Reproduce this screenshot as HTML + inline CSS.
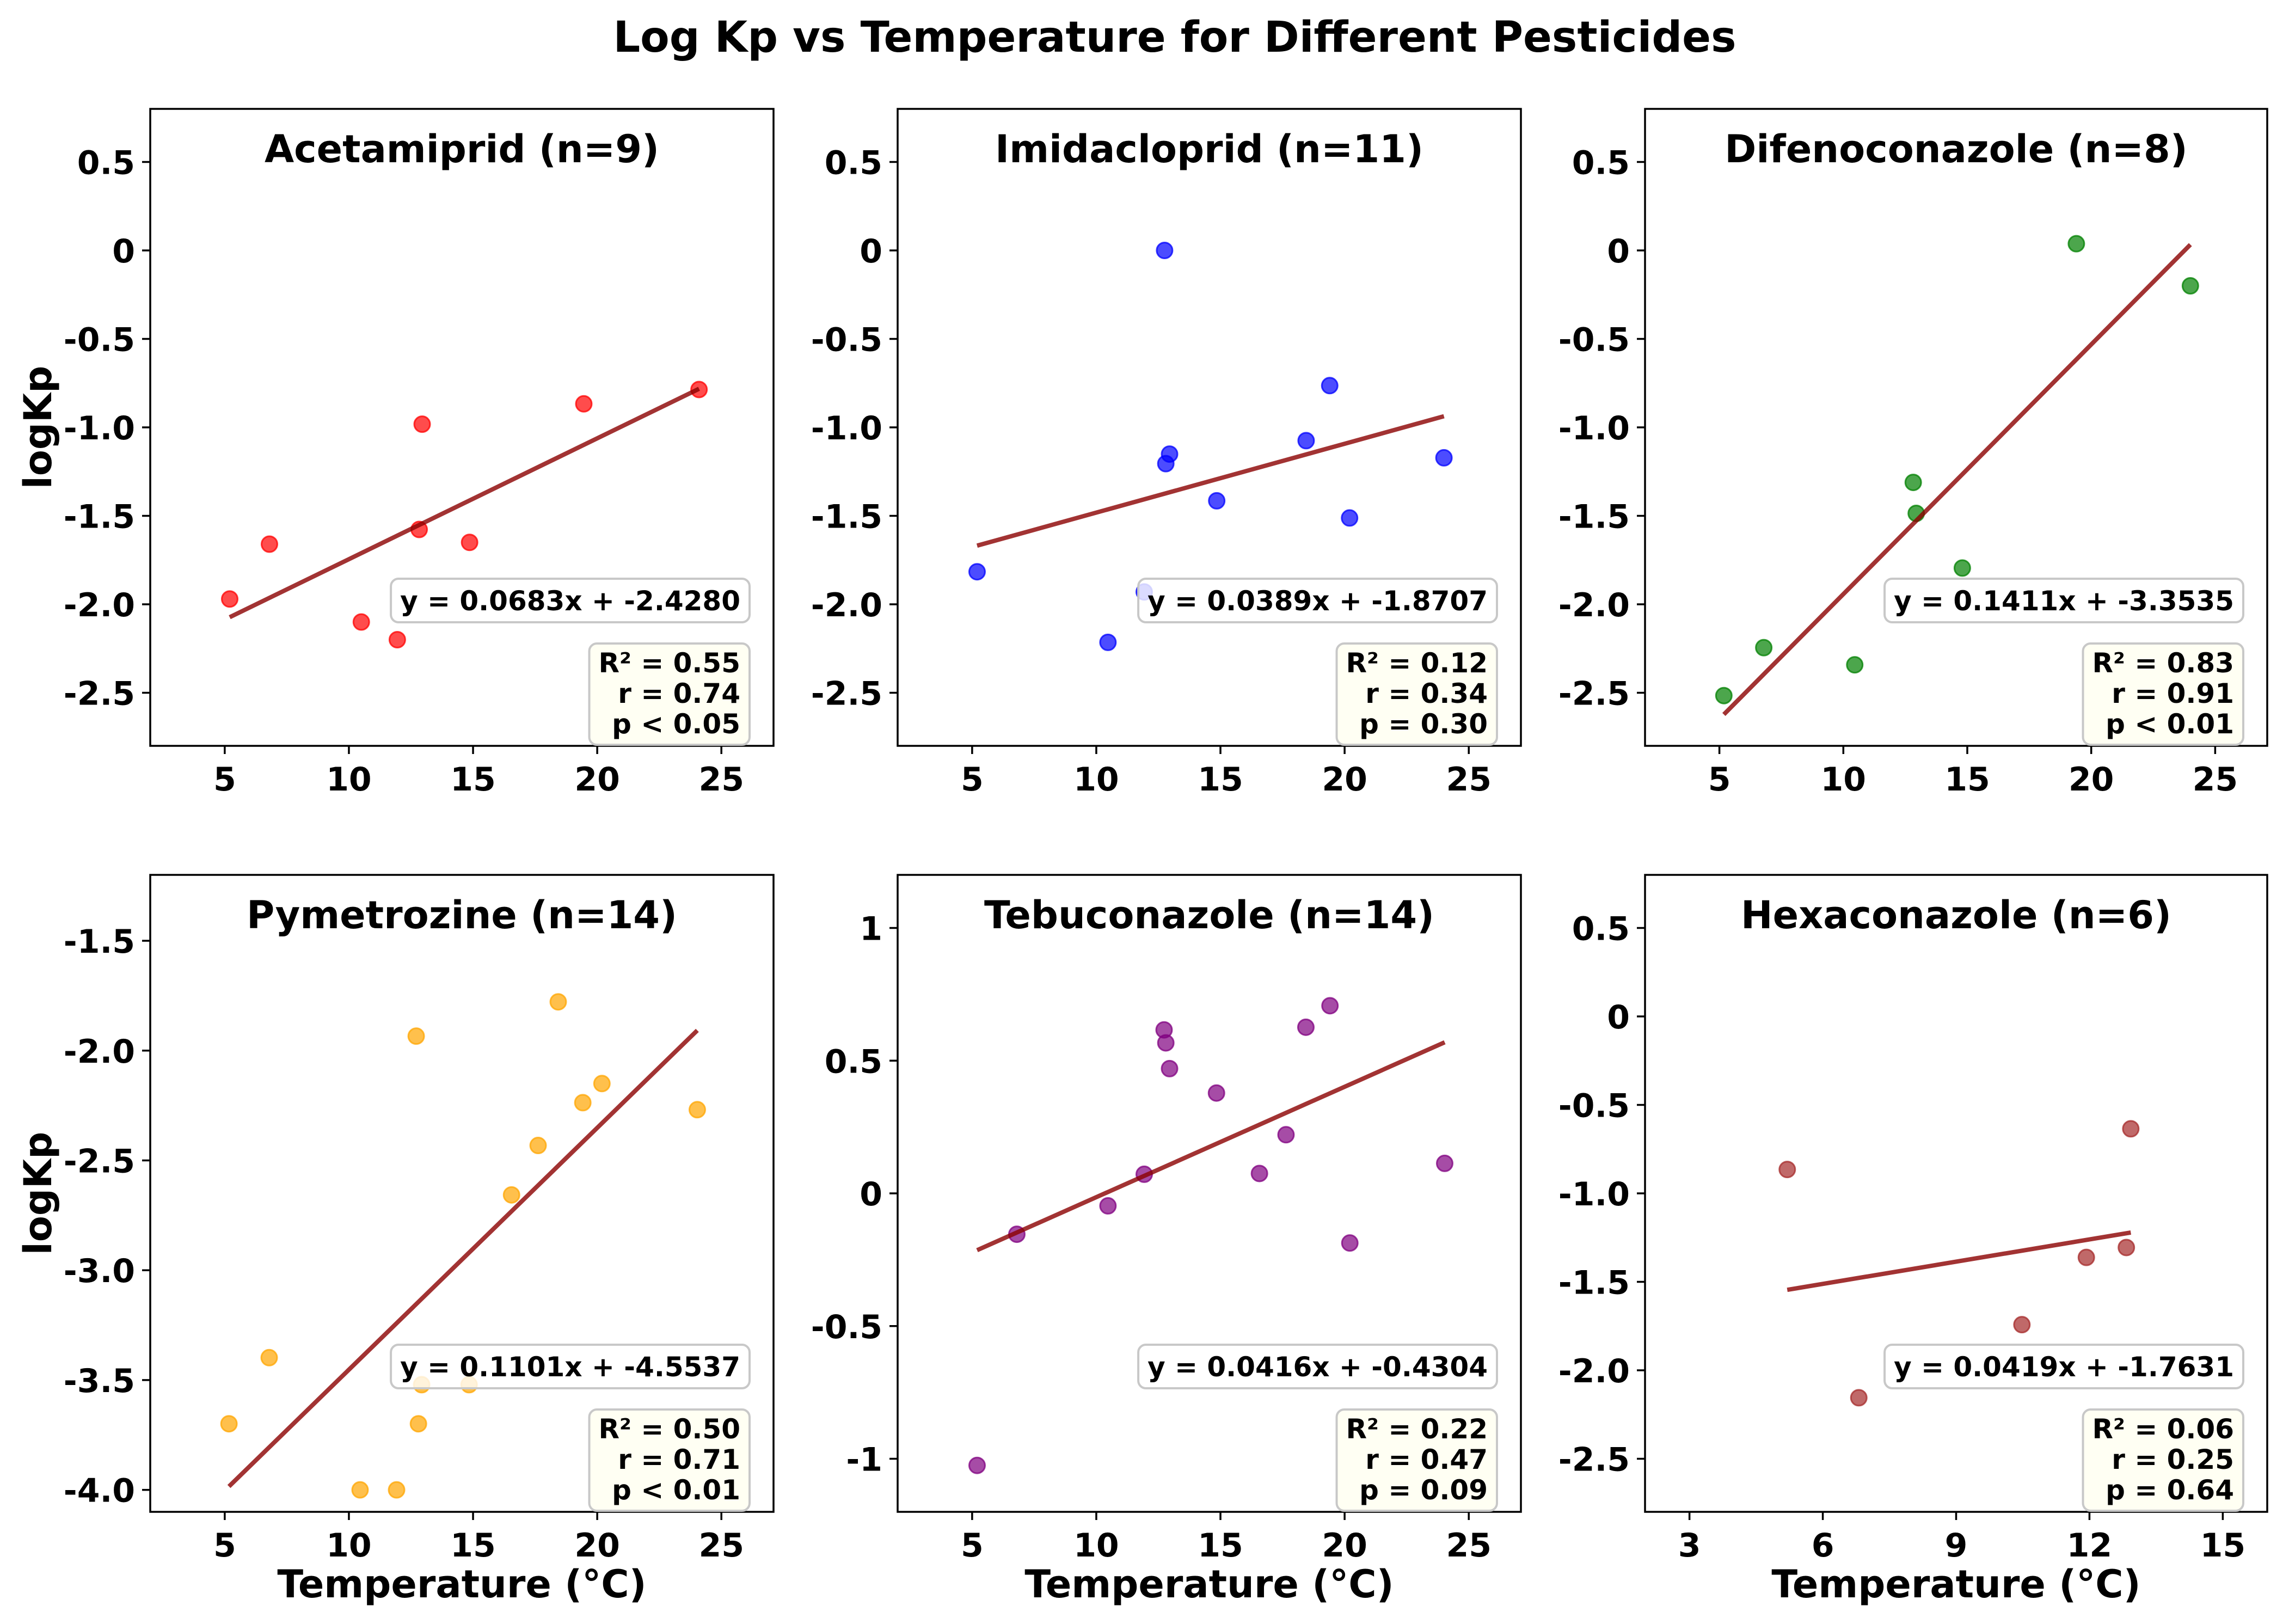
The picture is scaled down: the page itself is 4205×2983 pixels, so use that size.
<!DOCTYPE html>
<html>
<head>
<meta charset="utf-8">
<style>
  html,body{margin:0;padding:0;background:#fff;}
  svg{display:block;font-family:"DejaVu Sans","Liberation Sans",sans-serif;font-weight:bold;}
</style>
</head>
<body>
<svg id="fig" xmlns="http://www.w3.org/2000/svg" width="4205" height="2983" viewBox="0 0 4205 2983">
  <rect x="0" y="0" width="4205" height="2983" fill="#ffffff"/>
  <text x="2158" y="95" font-size="78" text-anchor="middle" fill="#000">Log Kp vs Temperature for Different Pesticides</text>
</svg>
<script>
// ---- data ----
const panelTitles = ["Acetamiprid (n=9)","Imidacloprid (n=11)","Difenoconazole (n=8)","Pymetrozine (n=14)","Tebuconazole (n=14)","Hexaconazole (n=6)"];
const panelColors = ["#ff0000","#0000ff","#008000","#ffa500","#800080","#a52a2a"];

const acetTemp = [5.2,6.8,10.5,11.95,12.83,12.95,14.86,19.46,24.1];
const acetLogKp = [-1.97,-1.66,-2.10,-2.20,-1.577,-0.982,-1.65,-0.867,-0.786];

const imidTemp = [5.2,12.75,19.4,18.45,12.95,12.8,14.85,20.2,24.0,11.93,10.47];
const imidLogKp = [-1.816,0.0,-0.764,-1.075,-1.151,-1.205,-1.415,-1.512,-1.172,-1.93,-2.215];

const difeTemp = [19.4,24.0,12.82,12.94,14.8,6.79,10.46,5.18];
const difeLogKp = [0.038,-0.20,-1.311,-1.486,-1.795,-2.245,-2.342,-2.516];

const pymeTemp = [18.43,12.71,20.19,19.42,24.03,17.62,16.55,6.79,5.17,12.8,12.93,14.84,10.45,11.92];
const pymeLogKp = [-1.778,-1.934,-2.150,-2.237,-2.269,-2.432,-2.657,-3.398,-3.699,-3.699,-3.521,-3.521,-4.0,-4.0];

const tebuTemp = [5.2,6.8,10.47,11.93,12.73,12.8,12.95,14.84,17.64,16.57,18.44,19.41,24.03,20.21];
const tebuLogKp = [-1.025,-0.154,-0.047,0.072,0.616,0.567,0.470,0.378,0.221,0.075,0.626,0.707,0.113,-0.187];

const hexaTemp = [5.2,6.81,10.48,11.93,12.83,12.93];
const hexaLogKp = [-0.865,-2.155,-1.742,-1.362,-1.306,-0.635];

const fitSlopes = [0.0683,0.0389,0.1411,0.1101,0.0416,0.0419];
const fitIntercepts = [-2.4280,-1.8707,-3.3535,-4.5537,-0.4304,-1.7631];
const fitLabels = ["y = 0.0683x + -2.4280","y = 0.0389x + -1.8707","y = 0.1411x + -3.3535","y = 0.1101x + -4.5537","y = 0.0416x + -0.4304","y = 0.0419x + -1.7631"];
const statR2 = ["R² = 0.55","R² = 0.12","R² = 0.83","R² = 0.50","R² = 0.22","R² = 0.06"];
const statR = ["r = 0.74","r = 0.34","r = 0.91","r = 0.71","r = 0.47","r = 0.25"];
const statP = ["p < 0.05","p = 0.30","p < 0.01","p < 0.01","p = 0.09","p = 0.64"];

const yLimLow = [-2.8,-2.8,-2.8,-4.1,-1.2,-2.8];
const yLimHigh = [0.8,0.8,0.8,-1.2,1.2,0.8];
const xLimLow = [2,2,2,2,2,2];
const xLimHigh = [27.1,27.1,27.1,27.1,27.1,16];

const yTickVals = [
  [0.5,0,-0.5,-1.0,-1.5,-2.0,-2.5],
  [0.5,0,-0.5,-1.0,-1.5,-2.0,-2.5],
  [0.5,0,-0.5,-1.0,-1.5,-2.0,-2.5],
  [-1.5,-2.0,-2.5,-3.0,-3.5,-4.0],
  [1,0.5,0,-0.5,-1],
  [0.5,0,-0.5,-1.0,-1.5,-2.0,-2.5]
];
const yTickLabels = [
  ["0.5","0","-0.5","-1.0","-1.5","-2.0","-2.5"],
  ["0.5","0","-0.5","-1.0","-1.5","-2.0","-2.5"],
  ["0.5","0","-0.5","-1.0","-1.5","-2.0","-2.5"],
  ["-1.5","-2.0","-2.5","-3.0","-3.5","-4.0"],
  ["1","0.5","0","-0.5","-1"],
  ["0.5","0","-0.5","-1.0","-1.5","-2.0","-2.5"]
];
const xTickVals = [[5,10,15,20,25],[5,10,15,20,25],[5,10,15,20,25],[5,10,15,20,25],[5,10,15,20,25],[3,6,9,12,15]];
const xTickLabels = [["5","10","15","20","25"],["5","10","15","20","25"],["5","10","15","20","25"],["5","10","15","20","25"],["5","10","15","20","25"],["3","6","9","12","15"]];

const seriesTemps = [acetTemp,imidTemp,difeTemp,pymeTemp,tebuTemp,hexaTemp];
const seriesLogKp = [acetLogKp,imidLogKp,difeLogKp,pymeLogKp,tebuLogKp,hexaLogKp];

// ---- layout ----
const NS = "http://www.w3.org/2000/svg";
const svg = document.getElementById("fig");
const colLeft = [276,1649,3022];
const colRight = [1421,2794,4165];
const rowTop = [200,1607];
const rowBottom = [1370,2777];

function mk(tag, attrs, parent){
  const e = document.createElementNS(NS, tag);
  for (const k in attrs) e.setAttribute(k, attrs[k]);
  (parent||svg).appendChild(e);
  return e;
}

for (let i=0;i<6;i++){
  const c = i%3, r = Math.floor(i/3);
  const L=colLeft[c], R=colRight[c], T=rowTop[r], B=rowBottom[r];
  const xs = v => L + (v - xLimLow[i])/(xLimHigh[i]-xLimLow[i])*(R-L);
  const ys = v => B - (v - yLimLow[i])/(yLimHigh[i]-yLimLow[i])*(B-T);

  const g = mk("g", {});
  
  

  const clipId = "clip"+i;
  const cp = mk("clipPath",{id:clipId}, g);
  mk("rect",{x:L,y:T,width:R-L,height:B-T}, cp);

  for (let k=0;k<yTickVals[i].length;k++){
    const y = ys(yTickVals[i][k]);
    const t = mk("line",{x1:L-15,x2:L,y1:y,y2:y,stroke:"#000","stroke-width":3.5}, g);
    
    
    const lb = mk("text",{x:L-28,y:y+22,"font-size":60,"text-anchor":"end",fill:"#000"}, g);
    lb.textContent = yTickLabels[i][k];
    
    
  }
  for (let k=0;k<xTickVals[i].length;k++){
    const x = xs(xTickVals[i][k]);
    const t = mk("line",{x1:x,x2:x,y1:B,y2:B+15,stroke:"#000","stroke-width":3.5}, g);
    
    
    const lb = mk("text",{x:x,y:B+82,"font-size":60,"text-anchor":"middle",fill:"#000"}, g);
    lb.textContent = xTickLabels[i][k];
    
    
  }

  const plot = mk("g",{"clip-path":"url(#"+clipId+")"}, g);
  const tx = seriesTemps[i], ty = seriesLogKp[i];
  for (let k=0;k<tx.length;k++){
    const p = mk("circle",{cx:xs(tx[k]),cy:ys(ty[k]),r:14.5,fill:panelColors[i],"fill-opacity":0.7,stroke:panelColors[i],"stroke-opacity":0.75,"stroke-width":3}, plot);
    
    
  }
  const xmin = Math.min(...tx), xmax = Math.max(...tx);
  const ln = mk("line",{x1:xs(xmin),y1:ys(fitSlopes[i]*xmin+fitIntercepts[i]),x2:xs(xmax),y2:ys(fitSlopes[i]*xmax+fitIntercepts[i]),stroke:"#8b0000","stroke-opacity":0.8,"stroke-width":8}, plot);
  
  

  const fr = mk("rect",{x:L,y:T,width:R-L,height:B-T,fill:"none",stroke:"#000","stroke-width":3.5}, g);
  
  

  const tt = mk("text",{x:(L+R)/2,y:T+98,"font-size":70,"text-anchor":"middle",fill:"#000"}, g);
  tt.textContent = panelTitles[i];
  
  

  const eqRight = R-44, eqCy = T+903;
  const eqRect = mk("rect",{x:0,y:eqCy-40,width:10,height:80,rx:14,fill:"#ffffff","fill-opacity":0.8,stroke:"#c8c8c8","stroke-width":4}, g);
  
  
  const eq = mk("text",{x:eqRight-17,y:eqCy+18,"font-size":50,"text-anchor":"end",fill:"#000"}, g);
  eq.textContent = fitLabels[i];
  
  
  const eqW = eq.getComputedTextLength();
  eqRect.setAttribute("x", eqRight-17-eqW-17);
  eqRect.setAttribute("width", eqW+34);

  const stRect = mk("rect",{x:0,y:B-188,width:10,height:186,rx:14,fill:"#fffff2","fill-opacity":0.9,stroke:"#c8c8c8","stroke-width":4}, g);
  
  
  const lines = [statR2[i],statR[i],statP[i]];
  let maxW = 0;
  for (let k=0;k<3;k++){
    const s = mk("text",{x:eqRight-17,y:B-135+k*56,"font-size":50,"text-anchor":"end",fill:"#000"}, g);
    s.textContent = lines[k];
    
    
    maxW = Math.max(maxW, s.getComputedTextLength());
  }
  stRect.setAttribute("x", eqRight-17-maxW-17);
  stRect.setAttribute("width", maxW+34);

  if (c===0){
    const yl = mk("text",{x:0,y:0,"font-size":70,"text-anchor":"middle",fill:"#000",transform:"translate(94,"+((T+B)/2)+") rotate(-90)"}, g);
    yl.textContent = "logKp";
    
    
  }
  if (r===1){
    const xl = mk("text",{x:(L+R)/2,y:2934,"font-size":70,"text-anchor":"middle",fill:"#000"}, g);
    xl.textContent = "Temperature (°C)";
    
    
  }
}
</script>
</body>
</html>
